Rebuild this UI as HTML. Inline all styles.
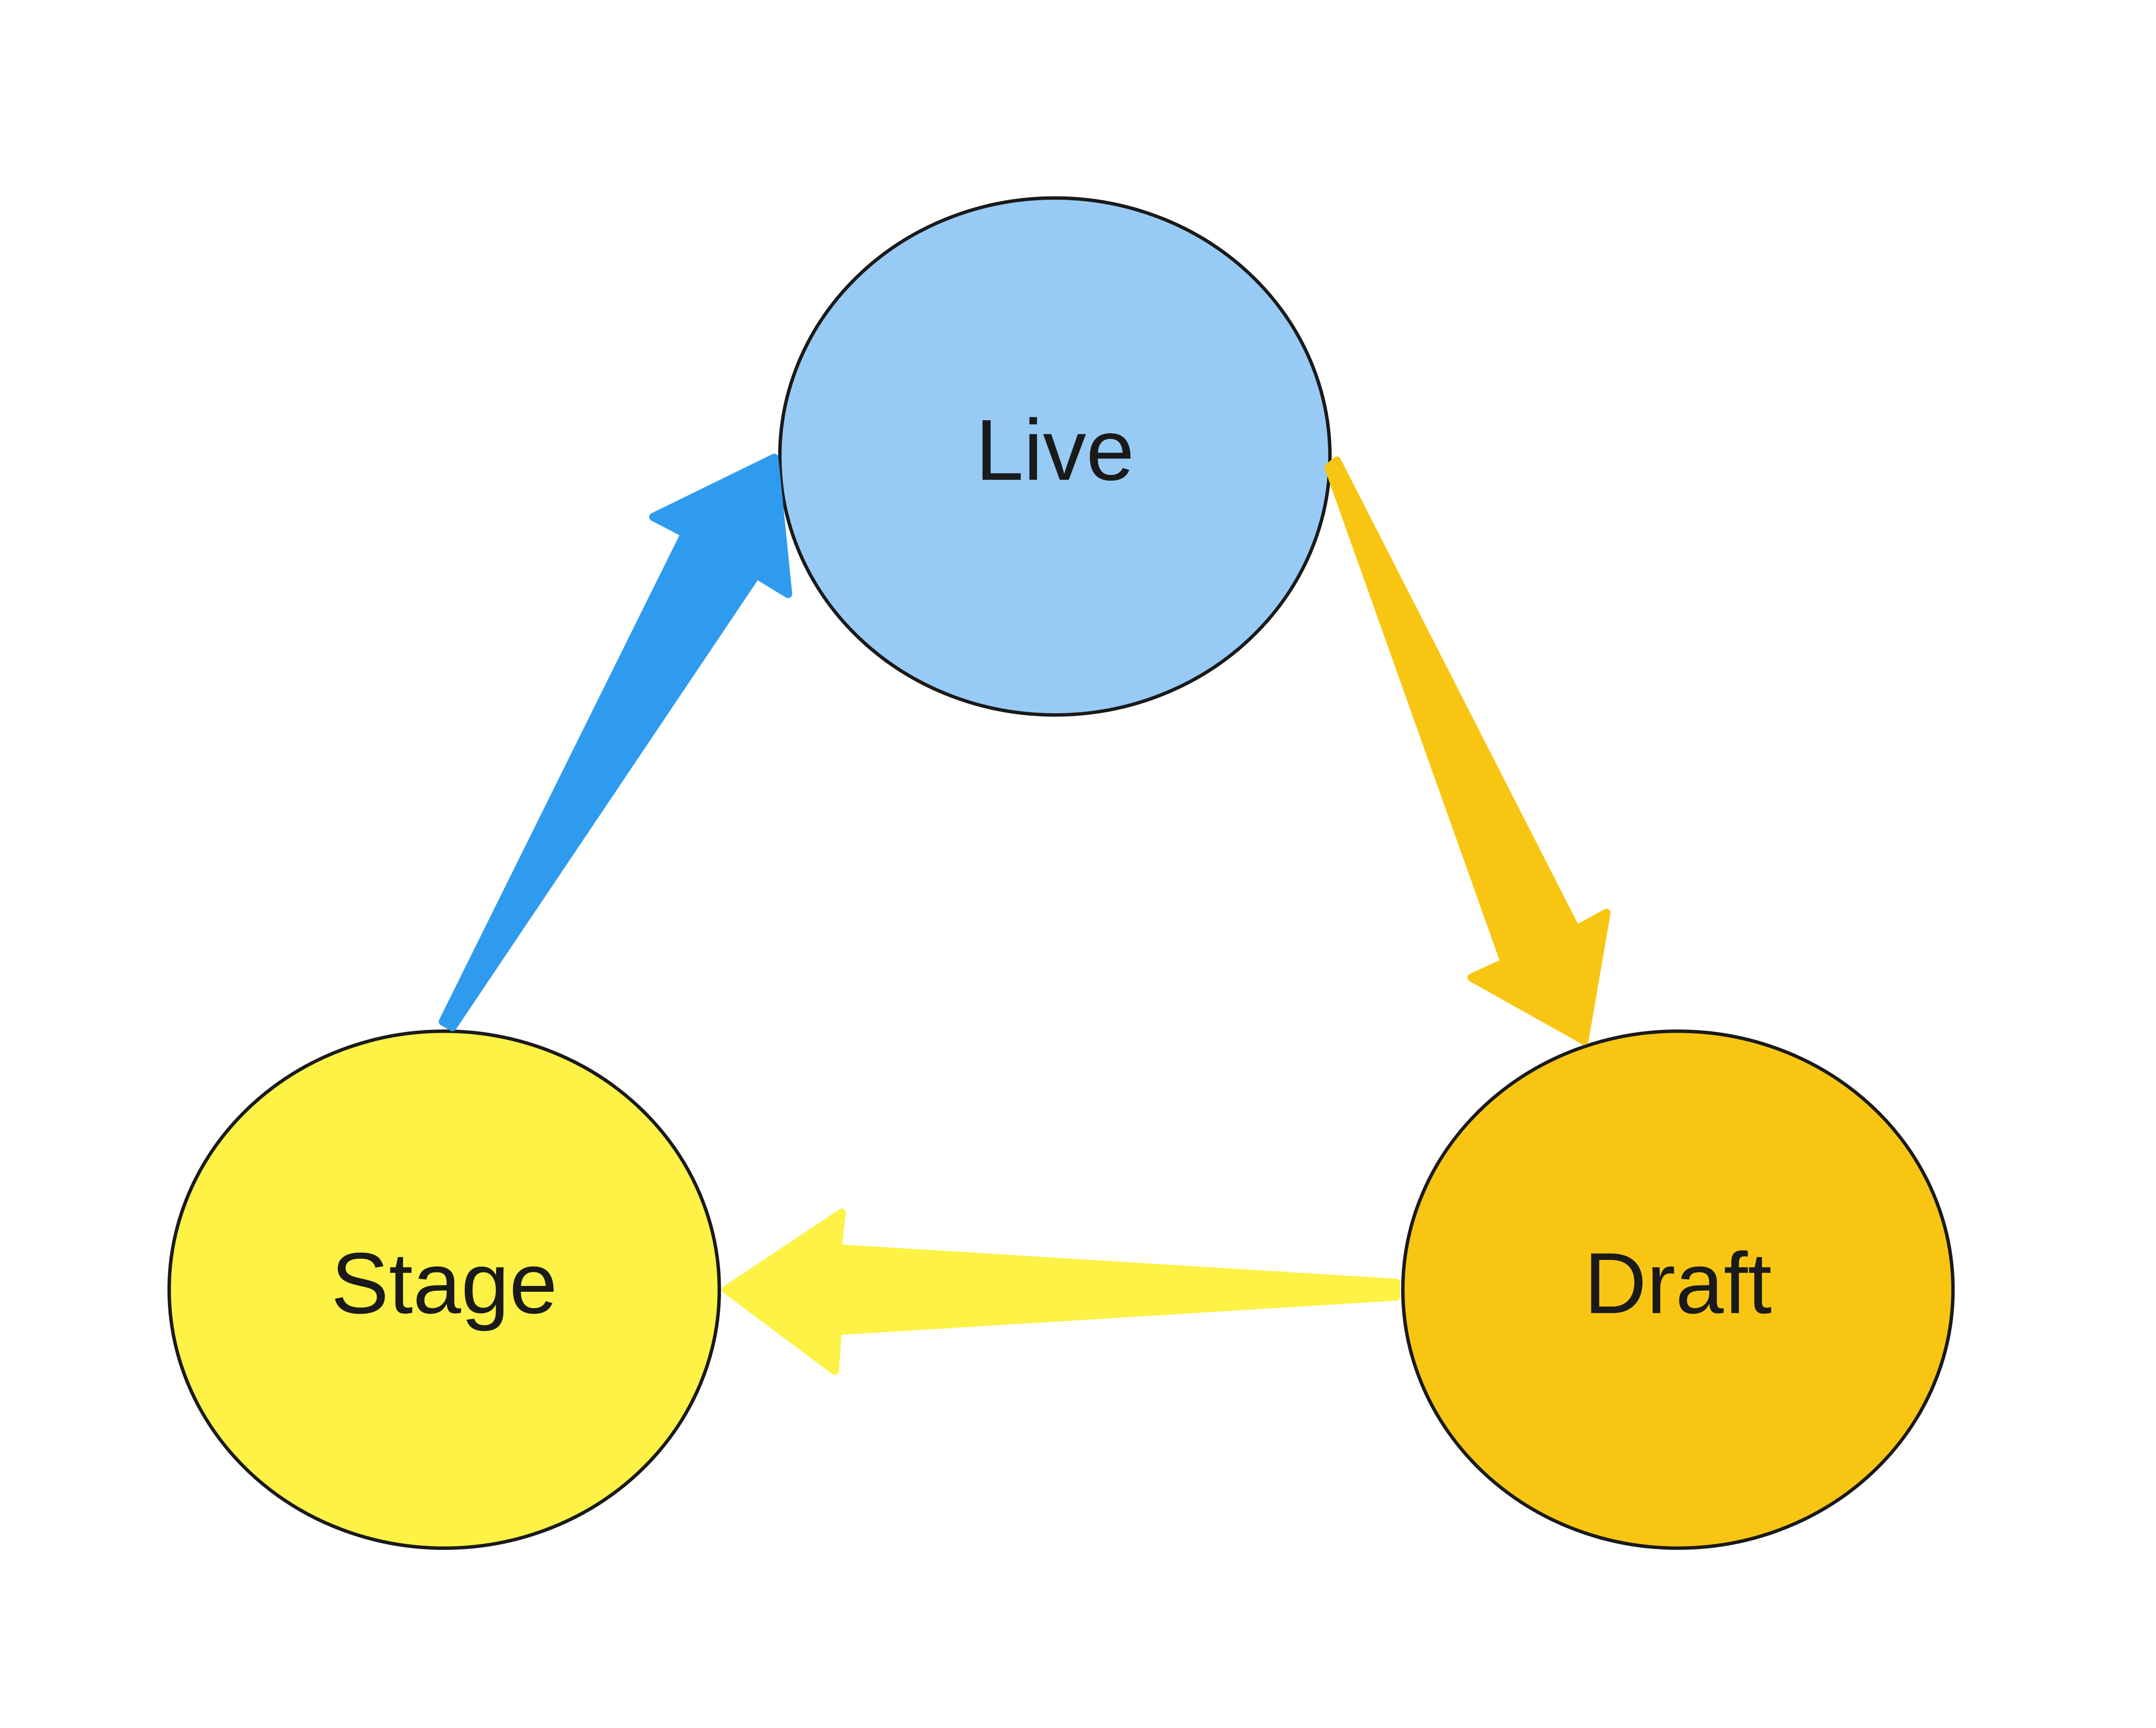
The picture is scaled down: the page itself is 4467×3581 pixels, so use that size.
<!DOCTYPE html>
<html><head><meta charset="utf-8"><style>html,body{margin:0;padding:0;background:#fff;}svg{display:block;}</style></head>
<body>
<svg width="4467" height="3581" viewBox="0 0 1567.6 1256.8" preserveAspectRatio="none" xmlns="http://www.w3.org/2000/svg">
<rect width="1567.6" height="1256.8" fill="#fff"/>
<ellipse cx="767" cy="332" rx="200" ry="188" fill="#97CBF5" stroke="#1a1a1a" stroke-width="2.5"/>
<ellipse cx="323" cy="938" rx="200" ry="188" fill="#FDF245" stroke="#1a1a1a" stroke-width="2.5"/>
<ellipse cx="1220" cy="938" rx="200" ry="188" fill="#F8C612" stroke="#1a1a1a" stroke-width="2.5"/>
<polygon points="322,743 498,388 475,376 563,333 573,432 550,418 329,747" fill="#2F9BEF" stroke="#2F9BEF" stroke-width="6" stroke-linejoin="round"/>
<polygon points="972,335 1146,676 1168,664 1152,757 1070,711 1094,700 966,340" fill="#F8C612" stroke="#F8C612" stroke-width="6" stroke-linejoin="round"/>
<polygon points="1015,933 609,908 612,882 528,938 607,997 609,968 1015,943" fill="#FDF245" stroke="#FDF245" stroke-width="6" stroke-linejoin="round"/>
<g font-family="Liberation Sans, DejaVu Sans, sans-serif" font-size="63" fill="#1a1a1a" text-anchor="middle">
<text x="767" y="349">Live</text>
<text x="323" y="955">Stage</text>
<text x="1220" y="955">Draft</text>
</g>
</svg>
</body></html>
